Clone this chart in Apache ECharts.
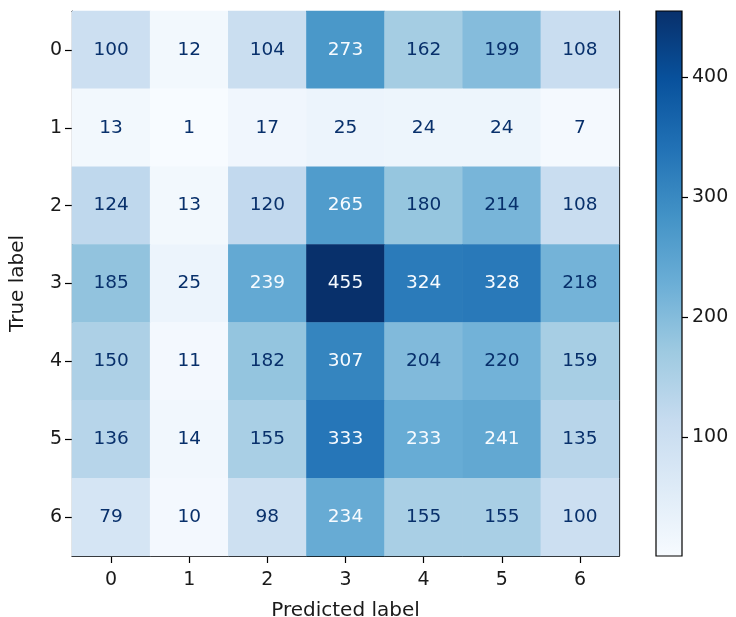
<!DOCTYPE html>
<html>
<head>
<meta charset="utf-8">
<script src="https://cdn.jsdelivr.net/npm/echarts@6/dist/echarts.min.js"></script>
<style>
html,body{margin:0;padding:0;background:#fff;}
#main{width:736px;height:617px;}
</style>
</head>
<body>
<div id="main"></div>
<script>
// class labels
var predLabels = ['0', '1', '2', '3', '4', '5', '6'];
var trueLabels = ['0', '1', '2', '3', '4', '5', '6'];
// confusion matrix rows (true label 0..6)
var row0 = [100, 12, 104, 273, 162, 199, 108];
var row1 = [13, 1, 17, 25, 24, 24, 7];
var row2 = [124, 13, 120, 265, 180, 214, 108];
var row3 = [185, 25, 239, 455, 324, 328, 218];
var row4 = [150, 11, 182, 307, 204, 220, 159];
var row5 = [136, 14, 155, 333, 233, 241, 135];
var row6 = [79, 10, 98, 234, 155, 155, 100];
var colorbarTicks = [100, 200, 300, 400];
// matplotlib "Blues"
var blues = ['#f7fbff', '#deebf7', '#c6dbef', '#9ecae1', '#6baed6', '#4292c6', '#2171b5', '#08519c', '#08306b'];

var rows = [row0, row1, row2, row3, row4, row5, row6];
var vmin = Infinity, vmax = -Infinity;
rows.forEach(function (r) {
    r.forEach(function (v) {
        if (v < vmin) vmin = v;
        if (v > vmax) vmax = v;
    });
});
// text colour flips at the middle of the colour range
var thresh = (vmin + vmax) / 2;
var data = [];
for (var i = 0; i < rows.length; i++) {
    for (var j = 0; j < rows[i].length; j++) {
        var v = rows[i][j];
        data.push({
            value: [j, i, v],
            label: {color: v > thresh ? blues[0] : blues[8]}
        });
    }
}

var stops = blues.map(function (c, k) {
    return {offset: k / (blues.length - 1), color: c};
});

var font = 'DejaVu Sans';
var txt = '#1a1a1a';
var myChart = echarts.init(document.getElementById('main'));
var option = {
    backgroundColor: '#fff',
    animation: false,
    textStyle: {fontFamily: font},
    grid: [
        {left: 72, top: 11, width: 547, height: 545, show: false, containLabel: false, outerBoundsMode: 'none'},
        // colorbar
        {left: 656, top: 11, width: 26, height: 545, show: true, borderColor: '#000', borderWidth: 1.2,
            containLabel: false, outerBoundsMode: 'none',
            backgroundColor: new echarts.graphic.LinearGradient(0, 1, 0, 0, stops)}
    ],
    xAxis: [
        {
            type: 'category', data: predLabels, gridIndex: 0, position: 'bottom',
            name: 'Predicted label', nameLocation: 'middle', nameGap: 45,
            nameTextStyle: {fontSize: 20, color: txt, fontFamily: font},
            axisLine: {show: true, onZero: false, lineStyle: {color: '#000', width: 1.2}},
            axisTick: {show: true, inside: false, alignWithLabel: true, length: 7, lineStyle: {color: '#000', width: 1.2}},
            axisLabel: {fontSize: 19, color: txt, margin: 15, fontFamily: font},
            splitLine: {show: false}
        },
        {
            type: 'category', data: predLabels, gridIndex: 0, position: 'top',
            axisLine: {show: true, onZero: false, lineStyle: {color: '#000', width: 1.2}},
            axisTick: {show: false}, axisLabel: {show: false}
        },
        {type: 'value', gridIndex: 1, show: false, min: 0, max: 1}
    ],
    yAxis: [
        {
            type: 'category', data: trueLabels, gridIndex: 0, inverse: true, position: 'left',
            name: 'True label', nameLocation: 'middle', nameGap: 44, nameRotate: 90,
            nameTextStyle: {fontSize: 20, color: txt, fontFamily: font},
            axisLine: {show: true, onZero: false, lineStyle: {color: '#000', width: 1.2}},
            axisTick: {show: true, inside: false, alignWithLabel: true, length: 7, lineStyle: {color: '#000', width: 1.2}},
            axisLabel: {fontSize: 19, color: txt, margin: 10, fontFamily: font},
            splitLine: {show: false}
        },
        {
            type: 'category', data: trueLabels, gridIndex: 0, inverse: true, position: 'right',
            axisLine: {show: true, onZero: false, lineStyle: {color: '#000', width: 1.2}},
            axisTick: {show: false}, axisLabel: {show: false}
        },
        {
            type: 'value', gridIndex: 1, position: 'right', min: vmin, max: vmax,
            axisLine: {show: false, onZero: false},
            axisTick: {show: true, inside: false, length: 6, lineStyle: {color: '#000', width: 1.2}, customValues: colorbarTicks},
            axisLabel: {fontSize: 19, color: txt, margin: 10, fontFamily: font, customValues: colorbarTicks},
            splitLine: {show: false}
        }
    ],
    visualMap: {
        show: false, type: 'continuous', min: vmin, max: vmax, seriesIndex: 0, dimension: 2,
        inRange: {color: blues}
    },
    series: [
        {
            type: 'heatmap', xAxisIndex: 0, yAxisIndex: 0, data: data,
            label: {show: true, fontSize: 18.5, fontFamily: font},
            itemStyle: {borderWidth: 0}
        }
    ]
};
myChart.setOption(option);
</script>
</body>
</html>
